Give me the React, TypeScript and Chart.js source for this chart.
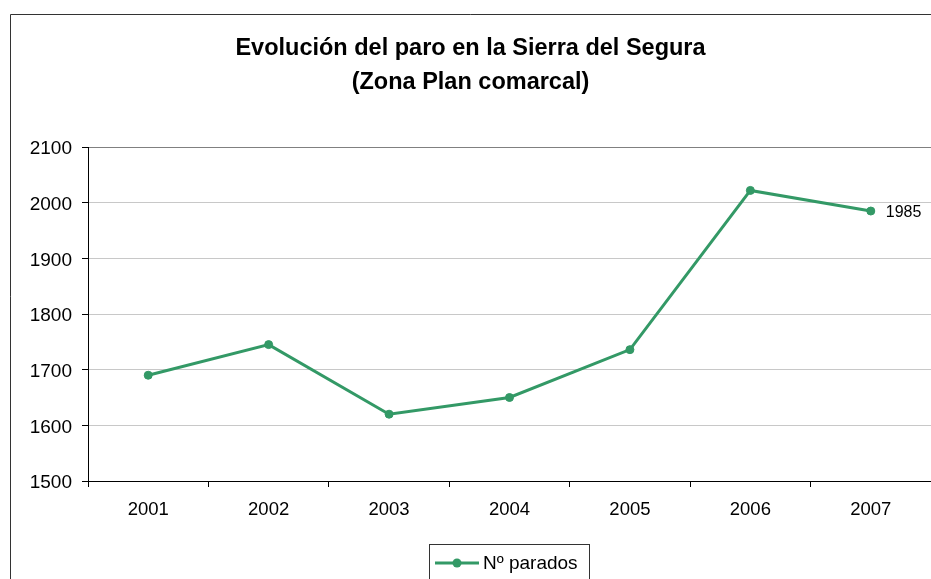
import React, { useEffect, useRef } from "react";
import { Chart, registerables } from "chart.js";

Chart.register(...registerables);

const categories = ["2001", "2002", "2003", "2004", "2005", "2006", "2007"];
const seriesName = "Nº parados";
const values = [1690, 1745, 1620, 1650, 1736, 2022, 1985];
const titleLines = ["Evolución del paro en la Sierra del Segura", "(Zona Plan comarcal)"];
const yMin = 1500;
const yMax = 2100;
const yStep = 100;

const GREEN = "#339966";
const FONT = "'Liberation Sans', Arial, sans-serif";

const decorPlugin = {
  id: "decor",
  beforeDraw(chart: any) {
    const { ctx, width, height } = chart;
    ctx.save();
    ctx.fillStyle = "#ffffff";
    ctx.fillRect(0, 0, width, height);
    ctx.strokeStyle = "#333333";
    ctx.lineWidth = 1;
    ctx.beginPath();
    ctx.moveTo(10.5, height);
    ctx.lineTo(10.5, 14.5);
    ctx.lineTo(width, 14.5);
    ctx.stroke();
    ctx.restore();
  },
  afterDraw(chart: any) {
    const { ctx } = chart;
    ctx.save();
    // Title
    ctx.fillStyle = "#000000";
    ctx.font = `bold 23.5px ${FONT}`;
    ctx.textAlign = "center";
    ctx.textBaseline = "middle";
    const cx = (10 + chart.width) / 2;
    titleLines.forEach((t, i) => ctx.fillText(t, cx, 48.5 + i * 34));

    // Last point data label
    const meta = chart.getDatasetMeta(0);
    const last = meta.data[meta.data.length - 1];
    ctx.font = `16px ${FONT}`;
    ctx.textAlign = "left";
    ctx.fillText(String(values[values.length - 1]), last.x + 15, last.y + 1.5);

    // Legend
    ctx.strokeStyle = "#333333";
    ctx.lineWidth = 1;
    ctx.strokeRect(429.5, 544.5, 160, 50);
    ctx.strokeStyle = GREEN;
    ctx.lineWidth = 3;
    ctx.beginPath();
    ctx.moveTo(435, 563);
    ctx.lineTo(479, 563);
    ctx.stroke();
    ctx.fillStyle = GREEN;
    ctx.beginPath();
    ctx.arc(457, 563, 4.5, 0, Math.PI * 2);
    ctx.fill();
    ctx.fillStyle = "#000000";
    ctx.font = `19px ${FONT}`;
    ctx.fillText(chart.data.datasets[0].label, 483, 564);
    ctx.restore();
  },
};

export default function App() {
  const ref = useRef<HTMLCanvasElement>(null);
  useEffect(() => {
    if (!ref.current) return;
    const chart = new Chart(ref.current, {
      type: "line",
      data: {
        labels: categories,
        datasets: [
          {
            label: seriesName,
            data: values,
            borderColor: GREEN,
            backgroundColor: GREEN,
            borderWidth: 3,
            pointRadius: 4,
            pointBorderWidth: 1,
            pointBackgroundColor: GREEN,
            pointBorderColor: GREEN,
            tension: 0,
          },
        ],
      },
      options: {
        responsive: false,
        animation: false,
        layout: { autoPadding: false, padding: { left: 10, right: 0, top: 147, bottom: 0 } },
        plugins: {
          legend: { display: false },
          title: { display: false },
          tooltip: { enabled: false },
        },
        scales: {
          x: {
            offset: true,
            grid: {
              offset: true,
              drawOnChartArea: false,
              drawTicks: true,
              tickLength: 6,
              color: "#000000",
              tickColor: "#000000",
            },
            border: { display: true, color: "#000000", width: 1 },
            ticks: { color: "#000000", font: { family: FONT, size: 18.5 }, padding: 12 },
            afterFit(scale: any) {
              scale.height = 98;
            },
          },
          y: {
            min: yMin,
            max: yMax,
            grid: {
              color: (c: any) => (c.tick && c.tick.value === yMax ? "#808080" : "#c8c8c8"),
              tickColor: "#000000",
              tickLength: 6,
            },
            border: { display: true, color: "#000000", width: 1 },
            ticks: {
              stepSize: yStep,
              color: "#000000",
              font: { family: FONT, size: 19 },
              padding: 10,
              labelOffset: 2,
              callback: (v: any) => String(v),
            },
            afterFit(scale: any) {
              scale.width = 78;
            },
          },
        },
      },
      plugins: [decorPlugin],
    });
    return () => chart.destroy();
  }, []);
  return (
    <div style={{ position: "fixed", left: 0, top: 0, width: 931, height: 579, background: "#fff" }}>
      <canvas ref={ref} width={931} height={579} />
    </div>
  );
}
